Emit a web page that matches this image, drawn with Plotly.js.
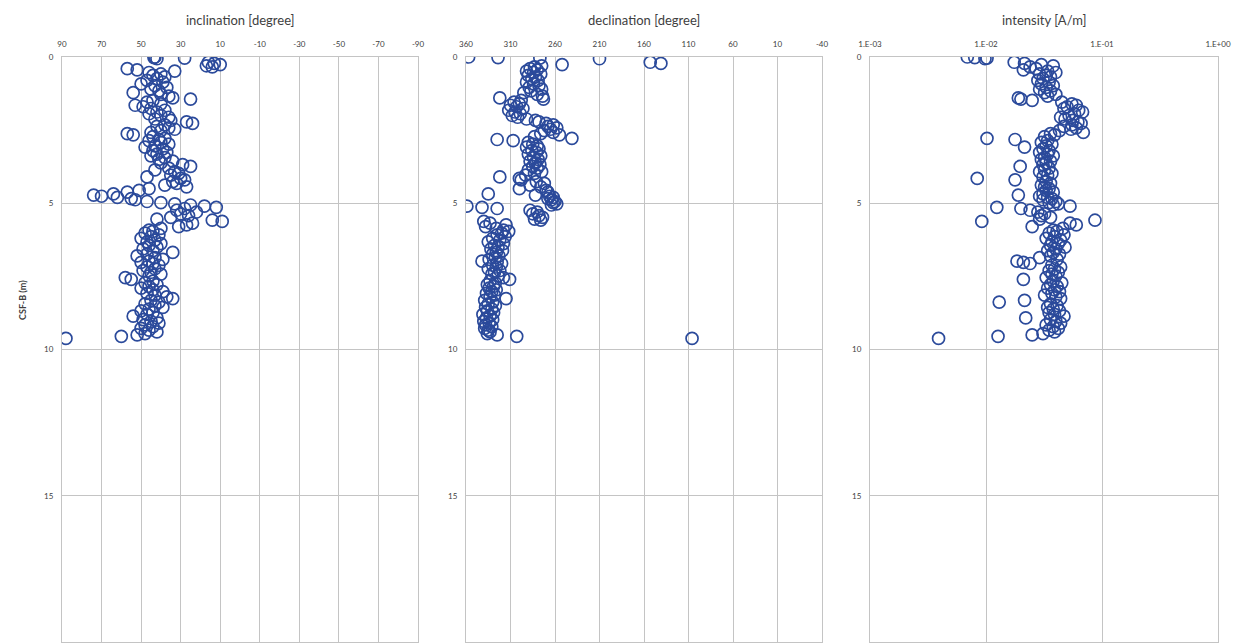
<!DOCTYPE html>
<html>
<head>
<meta charset="utf-8">
<script src="https://cdn.plot.ly/plotly-3.0.1.min.js"></script>
<style>html,body{margin:0;padding:0;background:#fff}#chart{width:1239px;height:643px}</style>
</head>
<body>
<div id="chart"></div>
<script>
// depth below seafloor (m), shared by the three panels
const depth = [
0.00,0.02,0.04,0.06,0.18,0.22,0.26,0.30,0.34,0.40,0.44,0.48,0.53,0.58,0.63,0.68,0.74,0.80,0.86,0.92,
0.98,1.04,1.10,1.16,1.22,1.28,1.34,1.40,1.44,1.48,1.54,1.60,1.65,1.70,1.76,1.82,1.88,1.94,2.00,2.06,
2.12,2.17,2.22,2.27,2.32,2.37,2.42,2.47,2.52,2.58,2.62,2.66,2.72,2.78,2.82,2.86,2.92,2.98,3.04,3.08,
3.14,3.20,3.26,3.32,3.38,3.44,3.50,3.56,3.62,3.68,3.74,3.80,3.86,3.92,3.98,4.04,4.10,4.15,4.20,4.26,
4.32,4.38,4.44,4.50,4.56,4.62,4.68,4.72,4.76,4.80,4.84,4.88,4.94,4.98,5.02,5.06,5.10,5.14,5.18,5.24,
5.30,5.36,5.42,5.48,5.54,5.58,5.62,5.68,5.74,5.80,5.86,5.92,
5.96,6.02,6.08,6.14,6.20,6.26,6.32,6.38,6.44,6.50,6.56,6.62,6.68,6.74,6.80,6.86,6.92,6.98,7.02,7.06,
7.12,7.18,7.24,7.30,7.36,7.42,7.48,7.54,7.60,7.66,7.72,7.78,7.84,7.90,7.96,8.02,8.08,8.14,8.20,8.26,
8.32,8.38,8.44,8.50,8.56,8.62,8.68,8.74,8.80,8.86,8.92,8.98,9.04,9.10,9.16,9.22,9.28,9.34,9.40,9.46,
9.50,9.55,9.62
];
// inclination (degree)
const inclination = [
43,43.5,28,42,16,13,10,17,14,57,52,33,46,40,44,38,42,47,39,50,
43,37,45,41,54,40,36,34,25,44,47,40,53,49,45,38,42,46,40,36,
43,35,27,24,38,42,36,33,40,45,57,54,44,38,41,46,40,36,43,48,
39,44,37,42,45,38,41,34,40,29,25,36,43,33,31,35,47,30,28,34,
32,38,27,46,51,57,64,74,70,62,55,53,47,40,33,25,18,12,28,32,
22,30,26,35,42,14,9,24,27,31,40,46,
44,48,41,45,50,43,47,40,46,42,49,44,34,47,52,43,39,46,50,44,
41,47,43,49,45,40,46,58,55,44,48,42,46,50,44,39,47,43,37,34,
45,41,48,43,39,46,50,44,47,54,42,49,45,41,48,44,50,46,42,48,
52,60,88
];
// declination (degree)
const declination = [
357,324,277,210,153,141,252,275,283,288,280,292,284,276,290,282,286,279,292,284,
278,289,275,287,295,280,274,322,273,298,306,300,310,303,296,312,305,299,308,302,
292,282,278,270,262,268,258,265,272,262,276,255,283,241,325,307,290,285,280,292,
278,286,281,290,276,284,279,288,282,277,285,280,290,275,283,293,322,300,298,281,
272,288,276,300,270,268,335,282,266,262,268,264,260,262,258,264,359,342,325,288,
280,285,278,274,283,276,340,333,315,338,326,318,
312,320,325,316,330,322,335,318,328,324,332,319,326,330,323,327,334,342,325,320,
330,326,335,322,328,331,324,318,311,333,327,336,329,334,326,331,337,328,333,315,
339,330,335,327,338,331,336,329,341,333,337,330,340,334,338,331,339,335,333,336,
325,303,106
];
// intensity (A/m)
const intensity = [
0.0069,0.0080,0.0102,0.0098,0.0175,0.0215,0.030,0.038,0.024,0.027,0.021,0.034,0.040,0.029,0.033,0.036,0.031,0.028,0.035,0.030,
0.038,0.033,0.029,0.036,0.032,0.040,0.034,0.019,0.020,0.025,0.045,0.055,0.060,0.050,0.047,0.063,0.068,0.058,0.052,0.044,
0.048,0.056,0.062,0.066,0.055,0.047,0.060,0.054,0.043,0.069,0.036,0.039,0.032,0.0102,0.0178,0.034,0.030,0.037,0.033,0.0215,
0.031,0.035,0.029,0.034,0.038,0.032,0.030,0.036,0.033,0.031,0.0197,0.035,0.032,0.029,0.037,0.034,0.031,0.0084,0.0178,0.033,
0.036,0.030,0.032,0.035,0.033,0.038,0.031,0.0190,0.029,0.034,0.037,0.031,0.040,0.035,0.042,0.038,0.053,0.0124,0.020,0.024,
0.028,0.032,0.030,0.036,0.029,0.087,0.0092,0.053,0.060,0.025,0.046,0.038,
0.041,0.035,0.047,0.039,0.033,0.044,0.037,0.042,0.036,0.048,0.040,0.034,0.038,0.043,0.036,0.029,0.041,0.0185,0.021,0.024,
0.037,0.044,0.039,0.035,0.042,0.037,0.040,0.033,0.021,0.038,0.045,0.036,0.041,0.034,0.039,0.043,0.037,0.032,0.040,0.044,
0.0215,0.013,0.036,0.041,0.034,0.038,0.043,0.035,0.039,0.047,0.022,0.036,0.040,0.044,0.033,0.038,0.042,0.035,0.039,0.031,
0.025,0.0127,0.0039
];

const panelTitles = ['inclination [degree]', 'declination [degree]', 'intensity [A/m]'];
const incTicks = [90,70,50,30,10,-10,-30,-50,-70,-90];
const incTickText = ['90','70','50','30','10','-10','-30','-50','-70','-90'];
const decTicks = [360,310,260,210,160,110,60,10,-40];
const decTickText = ['360','310','260','210','160','110','60','10','-40'];
const intTicks = [0.001,0.01,0.1,1];
const intTickText = ['1.E-03','1.E-02','1.E-01','1.E+00'];
const depthTicks = [0,5,10,15,20];
const yTitle = 'CSF-B (m)';

const W = 1239, H = 643;
const px = v => v / W;
const py = v => 1 - v / H;

const mk = {symbol:'circle-open', size:12, color:'#2b4a9b', line:{width:1.7, color:'#2b4a9b'}};
const traces = [
  {x: inclination, y: depth, xaxis:'x', yaxis:'y', type:'scatter', mode:'markers', marker: mk, hoverinfo:'x+y'},
  {x: declination, y: depth, xaxis:'x2', yaxis:'y2', type:'scatter', mode:'markers', marker: mk, hoverinfo:'x+y'},
  {x: intensity, y: depth, xaxis:'x3', yaxis:'y3', type:'scatter', mode:'markers', marker: mk, hoverinfo:'x+y'}
];

const FONT = 'Lato, "Open Sans", sans-serif';
const tickFont = {family: FONT, size:8, color:'#404040'};
const gridC = '#c4c4c4';
function xa(dom, extra){
  return Object.assign({domain: dom, side:'top', showgrid:true, gridcolor:gridC, gridwidth:1,
    showline:true, linecolor:gridC, linewidth:1, mirror:true, zeroline:false,
    ticks:'', ticklabelstandoff:6, tickfont: tickFont, automargin:false, fixedrange:true}, extra);
}
function ya(anchor){
  return {domain:[py(642), py(57)], range:[20,0], anchor: anchor, tickvals: depthTicks,
    showgrid:true, gridcolor:gridC, gridwidth:1, showline:true, linecolor:gridC, linewidth:1,
    mirror:true, zeroline:false, ticks:'', ticklabelstandoff:6, tickfont: tickFont, automargin:false, fixedrange:true};
}
const titleFont = {family: FONT, size:13, color:'#404040'};
const layout = {
  width: W, height: H,
  margin:{l:0, r:0, t:0, b:0},
  paper_bgcolor:'#ffffff', plot_bgcolor:'#ffffff',
  showlegend:false,
  xaxis:  xa([px(62), px(418)], {range:[90,-90], tickvals: incTicks, ticktext: incTickText, anchor:'y'}),
  xaxis2: xa([px(466), px(822)], {range:[360,-40], tickvals: decTicks, ticktext: decTickText, anchor:'y2'}),
  xaxis3: xa([px(870), px(1218)], {type:'log', range:[-3,0], tickvals: intTicks, ticktext: intTickText, anchor:'y3'}),
  yaxis: ya('x'), yaxis2: ya('x2'), yaxis3: ya('x3'),
  annotations: [
    {text: panelTitles[0], x: px(240), y: py(20), xref:'paper', yref:'paper', xanchor:'center', yanchor:'middle', showarrow:false, font: titleFont},
    {text: panelTitles[1], x: px(644), y: py(20), xref:'paper', yref:'paper', xanchor:'center', yanchor:'middle', showarrow:false, font: titleFont},
    {text: panelTitles[2], x: px(1044), y: py(20), xref:'paper', yref:'paper', xanchor:'center', yanchor:'middle', showarrow:false, font: titleFont},
    {text: '<b>' + yTitle + '</b>', x: px(22), y: py(300), xref:'paper', yref:'paper', xanchor:'center', yanchor:'middle', showarrow:false, textangle:-90, font:{family: FONT, size:9, color:'#404040'}}
  ]
};
Plotly.newPlot('chart', traces, layout, {displayModeBar:false, staticPlot:true});
</script>
</body>
</html>
